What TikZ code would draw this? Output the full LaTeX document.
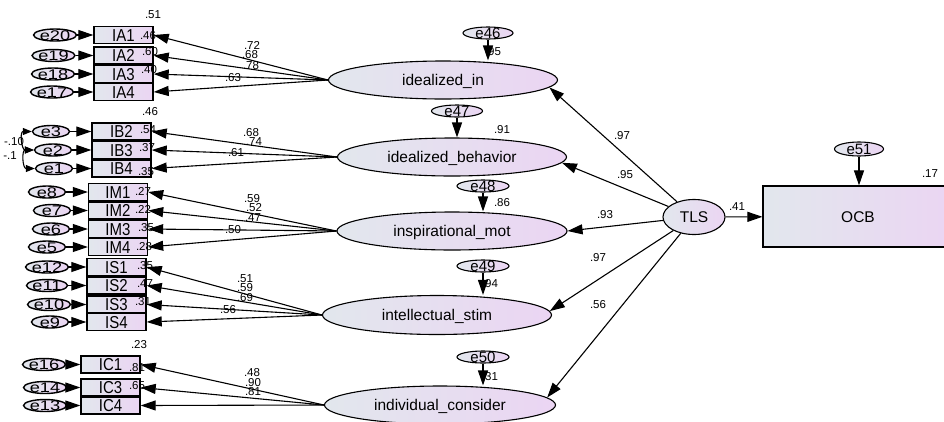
\documentclass[tikz,border=0pt]{standalone}
\usepackage{fontspec}
\usepackage{graphicx}
\setmainfont{Liberation Sans}
\usetikzlibrary{arrows.meta,shapes.geometric}
\definecolor{gl}{RGB}{226,231,237}
\definecolor{gr}{RGB}{235,213,243}
\newcommand{\ctext}[1]{\raisebox{-0.36em}[0pt][0pt]{#1}}
\newcommand{\wtext}[1]{\raisebox{-0.36em}[0pt][0pt]{\scalebox{1.3}[1]{#1}}}
\newcommand{\ttext}[1]{\raisebox{-0.41em}[0pt][0pt]{\scalebox{1}[1.15]{#1}}}
\begin{document}
\begin{tikzpicture}[x=1pt,y=-1pt,
 grad/.style={left color=gl,right color=gr},
 lat/.style={ellipse,draw,line width=1.1pt,grad,inner sep=0pt,minimum width=229pt,minimum height=38pt,font=\fontsize{15.5}{18}\selectfont},
 obs/.style={rectangle,draw,line width=1.4pt,grad,inner sep=0pt,minimum width=59pt,minimum height=17pt,font=\fontsize{15}{17}\selectfont},
 err/.style={ellipse,draw,line width=1.4pt,grad,inner sep=0pt,minimum width=37pt,minimum height=12pt,font=\fontsize{14}{14}\selectfont},
 errt/.style={ellipse,draw,line width=1.1pt,grad,inner sep=0pt,minimum width=51pt,minimum height=12pt,font=\fontsize{15}{15}\selectfont},
 num/.style={inner sep=0pt,font=\fontsize{11.5}{12}\selectfont},
 arr/.style={-{Triangle[length=15pt,width=10pt]},line width=1.1pt},
 cov/.style={{Triangle[length=9pt,width=7pt]}-{Triangle[length=9pt,width=7pt]},line width=1.1pt}]
\useasboundingbox (0,0) rectangle (944,421);

% latent variables
\node[lat] (idin) at (443,80) {\ctext{idealized\_in}};
\node[lat] (idbeh) at (452,157) {\ctext{idealized\_behavior}};
\node[lat,minimum width=230pt] (insp) at (452,231) {\ctext{inspirational\_mot}};
\node[lat,minimum height=39pt] (intel) at (437,315) {\ctext{intellectual\_stim}};
\node[lat,minimum width=231pt] (indiv) at (440,405) {\ctext{individual\_consider}};
\node[lat,minimum width=62pt,minimum height=35pt] (TLS) at (694,217) {\ctext{TLS}};
\node[obs,minimum width=190pt,minimum height=61pt,line width=1.2pt,font=\fontsize{15.5}{18}\selectfont] (OCB) at (858,216.5) {\ctext{OCB}};

% structural errors
\node[errt,minimum width=50pt] (e46) at (488,33) {\ctext{e46}};
\node[errt] (e47) at (457,111) {\ctext{e47}};
\node[errt,minimum width=52pt] (e48) at (483,186) {\ctext{e48}};
\node[errt,minimum width=52pt] (e49) at (483,266) {\ctext{e49}};
\node[errt,minimum width=52pt] (e50) at (483,357) {\ctext{e50}};
\node[errt,minimum width=49pt,minimum height=14pt] (e51) at (859,149) {\ctext{e51}};

% indicators
\foreach \n/\x/\y in {IA1/123.5/35, IA2/123.5/55.5, IA3/123.5/74, IA4/123.5/92,
  IB2/121.5/131.5, IB3/121.5/150, IB4/121.5/168.5,
  IM1/118/192, IM2/118/210.5, IM3/118/229, IM4/118/247,
  IS1/116.5/267, IS2/116.5/285.5, IS3/116.5/304.5, IS4/116.5/322,
  IC1/110.5/364.5, IC3/110.5/387.5, IC4/110.5/405.5}
  \node[obs] (\n) at (\x,\y) {\ttext{\n}};

% measurement errors
\foreach \n/\x/\y in {e20/55/35, e19/53.5/55.5, e18/53/74, e17/52/92,
  e3/51/131.5, e2/53/150, e1/54/168.5,
  e8/47/192, e7/52/210.5, e6/51/229, e5/47/247,
  e12/47/267, e11/47/285.5, e10/49/304.5, e9/50/322,
  e16/44/364.5, e14/45/387.5, e13/45/405.5}
  \node[err] (\n) at (\x,\y) {\wtext{\n}};

% numeric labels
\foreach \t/\x/\y [count=\i] in {
  .51/153/15, .46/148/36, .60/150/52, .40/149/70,
  .72/252/45, .68/250/55, .78/251/66, .63/233/78,
  .46/150/112, .54/148/130, .37/147/148, .35/146/172,
  .68/251/133, .74/254/142, .61/236/153,
  -.10/14/142, -.1/10/156,
  .27/143/191, .22/143/209, .35/146/228, .28/144/247,
  .59/252/199, .52/254/208, .47/253/218, .50/233/230,
  .35/145/266, .47/145/284, .31/143/302,
  .51/245/279, .59/245/288, .69/245/298, .56/228/310,
  .23/139/345, .81/137/368, .65/137/386,
  .48/252/373, .90/253/383, .81/253/392,
  .95/493/52, .91/502/130, .86/502/203, .94/490/284, .31/490/377,
  .97/622/136, .95/625/175, .93/605/215, .97/598/258, .56/598/305,
  .41/737/207, .17/930/174}
  \node[num] (n\i) at (\x,\y) {\t};

% error -> indicator arrows
\foreach \e/\b in {e20/IA1, e19/IA2, e18/IA3, e17/IA4, e3/IB2, e2/IB3, e1/IB4,
  e8/IM1, e7/IM2, e6/IM3, e5/IM4, e12/IS1, e11/IS2, e10/IS3, e9/IS4,
  e16/IC1, e14/IC3, e13/IC4}
  \draw[arr] (\e) -- (\b);

% loadings
\foreach \b in {IA1,IA2,IA3,IA4} \draw[arr] (idin.west) -- (\b.east);
\foreach \b in {IB2,IB3,IB4} \draw[arr] (idbeh.west) -- (\b.east);
\foreach \b in {IM1,IM2,IM3,IM4} \draw[arr] (insp.west) -- (\b.east);
\foreach \b in {IS1,IS2,IS3,IS4} \draw[arr] (intel.west) -- (\b.east);
\foreach \b in {IC1,IC3,IC4} \draw[arr] (indiv.west) -- (\b.east);

% covariances
\draw[cov] (e3.west) to[out=180,in=180,looseness=1.7] (e2.west);
\draw[cov] (e2.west) to[out=180,in=180,looseness=1.7] (e1.west);

% structural errors
\draw[arr] (e46) -- (e46 |- idin.north);
\draw[arr] (e47) -- (e47 |- idbeh.north);
\draw[arr] (e48) -- (e48 |- insp.north);
\draw[arr] (e49) -- (e49 |- intel.north);
\draw[arr] (e50) -- (e50 |- indiv.north);
\draw[arr] (e51) -- (e51 |- OCB.north);

% second order paths
\draw[arr] (TLS) -- (idin.-4);
\draw[arr] (TLS) -- (idbeh.-3);
\draw[arr] (TLS) -- (insp.east);
\draw[arr] (TLS) -- (intel.2.5);
\draw[arr] (TLS) -- (indiv.4);
\draw[arr] (TLS) -- (OCB);
\end{tikzpicture}
\end{document}
